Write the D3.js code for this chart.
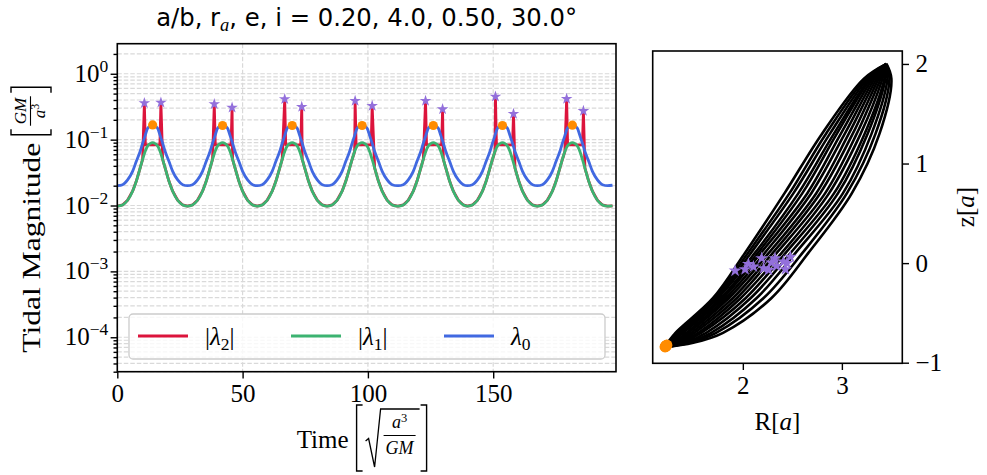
<!DOCTYPE html>
<html lang="en">
<head>
<meta charset="UTF-8" />
<title>Tidal magnitude along the orbit</title>
<script src="https://d3js.org/d3.v7.min.js"></script>
<style>
  body { margin: 0; background: #fff; }
  svg { display: block; }
</style>
</head>
<body>
<svg id="chart" width="987" height="475"></svg>
<script>
// ---- data ----
const tMax = 199;
// times of pericentre (orange dots) and lambda0 there
const periTimes = [14.1, 42.0, 69.8, 97.7, 126.1, 153.7, 181.6];
const periValues = [0.167, 0.164, 0.164, 0.164, 0.164, 0.164, 0.166];
// |lambda2| spikes (purple stars), two per pericentre passage
const starTimes = [10.8, 17.4, 38.7, 45.8, 66.8, 73.6, 94.9, 101.7, 123.0, 129.8, 150.9, 158.1, 179.3, 186.0];
const starValues = [0.358, 0.366, 0.346, 0.307, 0.412, 0.315, 0.388, 0.326, 0.388, 0.290, 0.451, 0.246, 0.416, 0.273];
// one passage, sampled in time relative to pericentre
const cycleDt = [-14, -12, -10, -8, -6.5, -5, -4, -3, -2, -1, 0, 1, 2, 3, 4, 5, 6.5, 8, 10, 12, 14, 16, 18];
const lambda0Cycle = [0.0200, 0.0207, 0.0245, 0.033, 0.047, 0.066, 0.088, 0.115, 0.149, 0.160, 0.165, 0.160, 0.149, 0.115, 0.088, 0.066, 0.047, 0.033, 0.0245, 0.0207, 0.0200, 0.0203, 0.0213];
const lambda1Cycle = [0.0098, 0.0102, 0.0120, 0.0165, 0.0235, 0.037, 0.050, 0.066, 0.080, 0.087, 0.090, 0.087, 0.080, 0.066, 0.050, 0.037, 0.0235, 0.0165, 0.0120, 0.0102, 0.0098, 0.0099, 0.0104];
const lambda2Cycle = [0.0098, 0.0102, 0.0120, 0.0165, 0.0235, 0.037, 0.050, 0.066, 0.080, 0.087, 0.090, 0.087, 0.080, 0.066, 0.050, 0.037, 0.0235, 0.0165, 0.0120, 0.0102, 0.0098, 0.0099, 0.0104];
const lambda2Plateau = 0.083;

const timeTicks = [0, 50, 100, 150];
const magTicks = [1, 0.1, 0.01, 0.001, 0.0001];
const magTickExp = ["0", "\u22121", "\u22122", "\u22123", "\u22124"];

const seriesNames = ["2", "1", "0"];
const seriesColors = ["#dc143c", "#3cb371", "#4169e1"];

// meridional plane: R at fixed z levels for each pass of the orbit
const orbitStart = [1.2, -0.845];
const orbitEnd = [3.45, 2.0];
const orbitZ = [-0.8, -0.7, -0.35, 0.1, 0.7, 1.3, 1.85];
const orbitTracks = [
  [1.24, 1.32, 1.70, 2.02, 2.42, 2.80, 3.22],
  [1.25, 1.33, 1.72, 2.05, 2.47, 2.84, 3.24],
  [1.26, 1.35, 1.74, 2.08, 2.51, 2.88, 3.26],
  [1.26, 1.36, 1.75, 2.12, 2.56, 2.92, 3.28],
  [1.27, 1.38, 1.78, 2.15, 2.60, 2.95, 3.29],
  [1.28, 1.40, 1.80, 2.18, 2.65, 2.99, 3.31],
  [1.30, 1.43, 1.83, 2.22, 2.69, 3.03, 3.33],
  [1.31, 1.45, 1.86, 2.26, 2.74, 3.07, 3.35],
  [1.33, 1.48, 1.90, 2.30, 2.78, 3.11, 3.37],
  [1.34, 1.51, 1.94, 2.34, 2.83, 3.15, 3.39],
  [1.36, 1.55, 1.98, 2.39, 2.87, 3.19, 3.41],
  [1.38, 1.58, 2.03, 2.43, 2.92, 3.23, 3.43],
  [1.41, 1.63, 2.08, 2.48, 2.96, 3.26, 3.44],
  [1.43, 1.68, 2.14, 2.53, 3.01, 3.30, 3.46],
  [1.46, 1.73, 2.21, 2.60, 3.05, 3.34, 3.48],
  [1.50, 1.80, 2.29, 2.66, 3.10, 3.38, 3.50]
];
const periR = [1.215, 1.218, 1.221, 1.224, 1.227, 1.230, 1.233];
const periZ = [-0.842, -0.838, -0.835, -0.832, -0.829, -0.826, -0.823];
const starR = [1.922, 2.023, 2.057, 2.107, 2.19, 2.21, 2.26, 2.29, 2.325, 2.34, 2.41, 2.43, 2.48, 2.445];
const starZ = [-0.076, -0.062, -0.009, -0.035, 0.049, -0.052, -0.068, 0.005, 0.049, -0.029, 0.014, -0.062, 0.064, 0.0];
const rTicks = [2, 3];
const zTicks = [2, 1, 0, -1];

// ---- drawing ----
const serif = '"Liberation Serif", "DejaVu Serif", serif';
const sans = '"DejaVu Sans", sans-serif';
const fs = 25;
const svg = d3.select("#chart");
svg.append("rect").attr("width", 987).attr("height", 475).attr("fill", "#fff");

const L = { x0: 117.3, x1: 616, y0: 43.7, y1: 371.7 };
const x = d3.scaleLinear().domain([0, tMax]).range([L.x0, L.x1]);
const y = d3.scaleLog().domain([3.0e-5, 2.86]).range([L.y1, L.y0]);

// grid
const grid = svg.append("g").attr("stroke", "#d9d9d9").attr("stroke-width", 1.2).attr("stroke-dasharray", "4.5,2");
grid.selectAll("line.gy").data(y.ticks()).join("line")
  .attr("x1", L.x0).attr("x2", L.x1).attr("y1", d => y(d)).attr("y2", d => y(d));
grid.selectAll("line.gx").data(timeTicks).join("line")
  .attr("x1", d => x(d)).attr("x2", d => x(d)).attr("y1", L.y0).attr("y2", L.y1);

svg.append("clipPath").attr("id", "clipL").append("rect")
  .attr("x", L.x0).attr("y", L.y0).attr("width", L.x1 - L.x0).attr("height", L.y1 - L.y0);
const plotL = svg.append("g").attr("clip-path", "url(#clipL)");

function passages(profile) {
  const pts = [];
  periTimes.forEach((tp, k) => {
    const next = periTimes[k + 1];
    cycleDt.forEach((dt, j) => {
      const t = tp + dt;
      if (t < 0 || t > tMax) return;
      if (next !== undefined && dt >= (next - tp) / 2) return;
      pts.push([t, profile[j]]);
    });
  });
  return pts;
}

const redPts = [];
periTimes.forEach((tp, k) => {
  const next = periTimes[k + 1];
  const s1 = starTimes[2 * k], s2 = starTimes[2 * k + 1];
  const prof = cycleDt.map((dt, j) => [tp + dt, lambda2Cycle[j], dt])
    .filter(p => p[0] >= 0 && p[0] <= tMax && (next === undefined || p[2] < (next - tp) / 2));
  prof.filter(p => p[0] < s1).forEach(p => redPts.push([p[0], p[1]]));
  redPts.push([s1, starValues[2 * k]], [s1 + 0.4, lambda2Plateau], [s2 - 0.4, lambda2Plateau], [s2, starValues[2 * k + 1]]);
  prof.filter(p => p[0] > s2).forEach(p => redPts.push([p[0], p[1]]));
});

const lineSmooth = d3.line().x(d => x(d[0])).y(d => y(d[1])).curve(d3.curveMonotoneX);
const lineStraight = d3.line().x(d => x(d[0])).y(d => y(d[1]));

plotL.append("path").attr("d", lineStraight(redPts)).attr("fill", "none")
  .attr("stroke", seriesColors[0]).attr("stroke-width", 2.8).attr("stroke-linejoin", "round");
plotL.append("path").attr("d", lineSmooth(passages(lambda1Cycle))).attr("fill", "none")
  .attr("stroke", seriesColors[1]).attr("stroke-width", 2.8);
plotL.append("path").attr("d", lineSmooth(passages(lambda0Cycle))).attr("fill", "none")
  .attr("stroke", seriesColors[2]).attr("stroke-width", 2.8);

const star = d3.symbol().type(d3.symbolStar).size(42);
plotL.selectAll("path.star").data(starTimes).join("path")
  .attr("d", star).attr("fill", "#9370db")
  .attr("transform", (d, i) => `translate(${x(d)},${y(starValues[i])})`);
plotL.selectAll("circle.peri").data(periTimes).join("circle")
  .attr("cx", d => x(d)).attr("cy", (d, i) => y(periValues[i])).attr("r", 4.6).attr("fill", "#ff8c00");

// axes left
const yMajor = svg.append("g").attr("transform", `translate(${L.x0},0)`)
  .call(d3.axisLeft(y).tickValues(magTicks).tickSize(6.7).tickSizeOuter(0).tickFormat(""));
const yMinor = svg.append("g").attr("transform", `translate(${L.x0},0)`)
  .call(d3.axisLeft(y).tickValues(y.ticks().filter(d => !magTicks.includes(d))).tickSize(3.8).tickSizeOuter(0).tickFormat(""));
const xAxL = svg.append("g").attr("transform", `translate(0,${L.y1})`)
  .call(d3.axisBottom(x).tickValues(timeTicks).tickSize(6.7).tickPadding(6).tickSizeOuter(0).tickFormat(d3.format("d")));
[yMajor, yMinor, xAxL].forEach(g => {
  g.select(".domain").remove();
  g.selectAll("line").attr("stroke-width", 1.4);
  g.attr("font-family", serif).attr("font-size", fs);
});

magTicks.forEach((v, i) => {
  const t = svg.append("text").attr("x", L.x0 - 9).attr("y", y(v) + 8)
    .attr("text-anchor", "end").attr("font-family", serif).attr("font-size", fs);
  t.append("tspan").text("10");
  t.append("tspan").attr("dy", -10).attr("font-size", 17.5).text(magTickExp[i]);
});

svg.append("rect").attr("x", L.x0).attr("y", L.y0).attr("width", L.x1 - L.x0).attr("height", L.y1 - L.y0)
  .attr("fill", "none").attr("stroke", "#000").attr("stroke-width", 1.6);

// legend
const leg = svg.append("g");
leg.append("rect").attr("x", 129).attr("y", 314).attr("width", 476).attr("height", 45).attr("rx", 4)
  .attr("fill", "#fff").attr("fill-opacity", 0.8).attr("stroke", "#cccccc").attr("stroke-width", 1.3);
seriesNames.forEach((s, i) => {
  const x0 = 138 + i * 153;
  leg.append("line").attr("x1", x0).attr("x2", x0 + 50).attr("y1", 336).attr("y2", 336)
    .attr("stroke", seriesColors[i]).attr("stroke-width", 2.8);
  const t = leg.append("text").attr("x", x0 + 67).attr("y", 345).attr("font-family", serif).attr("font-size", fs);
  const bar = i < 2 ? "|" : "";
  t.append("tspan").text(bar);
  t.append("tspan").attr("font-style", "italic").text("\u03bb");
  t.append("tspan").attr("font-size", 17.5).attr("dy", 5).text(s);
  t.append("tspan").attr("dy", -5).text(bar);
});

// title
const title = svg.append("text").attr("x", (L.x0 + L.x1) / 2).attr("y", 26).attr("text-anchor", "middle")
  .attr("font-family", sans).attr("font-size", 24.3);
title.append("tspan").text("a/b, r");
title.append("tspan").attr("font-family", serif).attr("font-style", "italic").attr("font-size", 18.5).attr("dy", 5).text("a");
title.append("tspan").attr("dy", -5).text(", e, i = 0.20, 4.0, 0.50, 30.0\u00b0");

function bracket(g, xb, yt, yb, w) {
  g.append("path").attr("d", `M${xb + w},${yt}H${xb}V${yb}H${xb + w}`)
    .attr("fill", "none").attr("stroke", "#000").attr("stroke-width", 1.4);
}

// y label (rotated)
const yl = svg.append("g").attr("transform", "translate(31,220) rotate(-90)");
const ylIn = yl.append("g");
const wT = 210;
ylIn.append("text").attr("x", 0).attr("y", 8.5).attr("font-family", serif).attr("font-size", fs)
  .attr("textLength", wT).attr("lengthAdjust", "spacingAndGlyphs").text("Tidal Magnitude");
bracket(ylIn, wT + 8, -20, 20, 5.5);
const num = ylIn.append("text").attr("y", -5.5).attr("font-family", serif).attr("font-size", 17).attr("font-style", "italic").attr("text-anchor", "middle").text("GM");
const den = ylIn.append("text").attr("y", 14).attr("font-family", serif).attr("font-size", 17).attr("text-anchor", "middle");
den.append("tspan").attr("font-style", "italic").text("a");
den.append("tspan").attr("font-size", 12).attr("dy", -6).text("3");
const fw = Math.max(num.node().getComputedTextLength(), den.node().getComputedTextLength()) + 3;
const fx = wT + 17;
num.attr("x", fx + fw / 2); den.attr("x", fx + fw / 2);
ylIn.append("line").attr("x1", fx).attr("x2", fx + fw).attr("y1", -0.5).attr("y2", -0.5).attr("stroke", "#000").attr("stroke-width", 1.1);
bracket(ylIn, fx + fw + 9, -20, 20, -5.5);
ylIn.attr("transform", `translate(${-(fx + fw + 9) / 2},0)`);

// x label
const xl = svg.append("g");
const xlText = xl.append("text").attr("x", 0).attr("y", 448).attr("font-family", serif).attr("font-size", fs).text("Time");
const wX = xlText.node().getComputedTextLength();
const bx = wX + 8;
bracket(xl, bx, 405, 471, 6);
const sx = bx + 9;
const xnum = xl.append("text").attr("y", 428).attr("font-family", serif).attr("font-size", 18).attr("text-anchor", "middle");
xnum.append("tspan").attr("font-style", "italic").text("a");
xnum.append("tspan").attr("font-size", 12.5).attr("dy", -6).text("3");
const xden = xl.append("text").attr("y", 454).attr("font-family", serif).attr("font-size", 18).attr("font-style", "italic").attr("text-anchor", "middle").text("GM");
const xfw = Math.max(xnum.node().getComputedTextLength(), xden.node().getComputedTextLength()) + 4;
const xfx = sx + 18;
xnum.attr("x", xfx + xfw / 2); xden.attr("x", xfx + xfw / 2);
xl.append("line").attr("x1", xfx).attr("x2", xfx + xfw).attr("y1", 435.5).attr("y2", 435.5).attr("stroke", "#000").attr("stroke-width", 1.1);
xl.append("path").attr("d", `M${sx},441L${sx + 3},438.5L${sx + 9},467L${sx + 15},409H${xfx + xfw + 4}`)
  .attr("fill", "none").attr("stroke", "#000").attr("stroke-width", 1.3);
const rbx = xfx + xfw + 11;
bracket(xl, rbx, 405, 471, -6);
xl.attr("transform", `translate(${(L.x0 + L.x1) / 2 - 5 - rbx / 2},0)`);

// ---- right panel ----
const R = { x0: 652.7, x1: 902.3, y0: 51, y1: 363.3 };
const xr = d3.scaleLinear().domain([1.09, 3.61]).range([R.x0, R.x1]);
const yr = d3.scaleLinear().domain([-1.006, 2.13]).range([R.y1, R.y0]);

svg.append("clipPath").attr("id", "clipR").append("rect")
  .attr("x", R.x0).attr("y", R.y0).attr("width", R.x1 - R.x0).attr("height", R.y1 - R.y0);
const plotR = svg.append("g").attr("clip-path", "url(#clipR)");
const orbitLine = d3.line().x(d => xr(d[0])).y(d => yr(d[1])).curve(d3.curveCatmullRom.alpha(0.5));
plotR.selectAll("path.track").data(orbitTracks).join("path")
  .attr("d", tr => orbitLine([orbitStart, ...tr.map((r, i) => [r, orbitZ[i]]), orbitEnd]))
  .attr("fill", "none").attr("stroke", "#000").attr("stroke-width", 2.6);
const bigStar = d3.symbol().type(d3.symbolStar).size(52);
plotR.selectAll("path.rstar").data(starR).join("path")
  .attr("d", bigStar).attr("fill", "#9370db")
  .attr("transform", (d, i) => `translate(${xr(d)},${yr(starZ[i])})`);
plotR.selectAll("circle.rperi").data(periR).join("circle")
  .attr("cx", d => xr(d)).attr("cy", (d, i) => yr(periZ[i])).attr("r", 5.5).attr("fill", "#ff8c00");

const xAxR = svg.append("g").attr("transform", `translate(0,${R.y1})`)
  .call(d3.axisBottom(xr).tickValues(rTicks).tickSize(6.7).tickPadding(6).tickSizeOuter(0).tickFormat(d3.format("d")));
const yAxR = svg.append("g").attr("transform", `translate(${R.x1},0)`)
  .call(d3.axisRight(yr).tickValues(zTicks).tickSize(6.7).tickPadding(6.5).tickSizeOuter(0).tickFormat(d3.format("d")));
[xAxR, yAxR].forEach(g => {
  g.select(".domain").remove();
  g.selectAll("line").attr("stroke-width", 1.4);
  g.attr("font-family", serif).attr("font-size", fs);
});
svg.append("rect").attr("x", R.x0).attr("y", R.y0).attr("width", R.x1 - R.x0).attr("height", R.y1 - R.y0)
  .attr("fill", "none").attr("stroke", "#000").attr("stroke-width", 1.6);

const rl = svg.append("text").attr("x", (R.x0 + R.x1) / 2).attr("y", 430).attr("text-anchor", "middle")
  .attr("font-family", serif).attr("font-size", fs);
rl.append("tspan").text("R[");
rl.append("tspan").attr("font-style", "italic").text("a");
rl.append("tspan").text("]");
const zl = svg.append("text").attr("transform", "translate(974,207) rotate(-90)").attr("text-anchor", "middle")
  .attr("font-family", serif).attr("font-size", fs);
zl.append("tspan").text("z[");
zl.append("tspan").attr("font-style", "italic").text("a");
zl.append("tspan").text("]");
</script>
</body>
</html>
